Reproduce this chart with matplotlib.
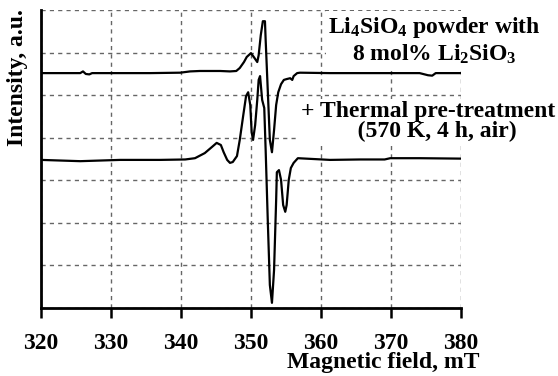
import matplotlib
matplotlib.use("Agg")
import matplotlib.pyplot as plt

plt.rcParams['font.family'] = 'Liberation Serif'
plt.rcParams['font.weight'] = 'bold'
plt.rcParams['mathtext.fontset'] = 'custom'
plt.rcParams['mathtext.bf'] = 'Liberation Serif:bold'
plt.rcParams['mathtext.rm'] = 'Liberation Serif:bold'
plt.rcParams['mathtext.default'] = 'bf'

# untreated powder (upper trace)
field_a = [320.0, 322.7, 325.6, 326.0, 326.4, 326.9, 327.3, 331.3, 335.6, 339.9,
           341.3, 342.7, 345.6, 347.0, 347.9, 348.4, 349.0, 349.4, 350.0, 350.4,
           350.9, 351.1, 351.4, 351.7, 352.0, 352.1, 352.4, 352.7, 353.0, 353.3,
           353.6, 353.9, 354.3, 354.7, 355.1, 355.6, 355.9, 356.1, 356.6, 357.0,
           361.3, 368.4, 374.1, 375.3, 375.9, 376.4, 380.0]
int_a = [5.52, 5.52, 5.52, 5.56, 5.50, 5.49, 5.52, 5.52, 5.52, 5.53,
         5.56, 5.57, 5.57, 5.56, 5.57, 5.64, 5.78, 5.90, 5.99, 5.90,
         5.78, 5.94, 6.41, 6.74, 6.74, 6.30, 5.12, 3.95, 3.66, 4.18,
         4.77, 5.07, 5.26, 5.36, 5.38, 5.40, 5.36, 5.45, 5.52, 5.53,
         5.52, 5.52, 5.52, 5.47, 5.46, 5.52, 5.52]

# after thermal pre-treatment (lower trace)
field_b = [320.0, 325.6, 331.3, 337.0, 340.6, 342.0, 343.4, 344.4, 345.1, 345.7,
           346.1, 346.6, 347.0, 347.4, 348.0, 348.4, 348.9, 349.3, 349.6, 349.9,
           350.1, 350.3, 350.6, 350.9, 351.1, 351.3, 351.6, 351.9, 352.1, 352.4,
           352.7, 353.0, 353.3, 353.6, 353.7, 354.0, 354.3, 354.6, 354.9, 355.1,
           355.4, 355.7, 356.1, 356.7, 361.3, 365.6, 369.1, 369.9, 374.1, 380.0]
int_b = [3.48, 3.45, 3.48, 3.48, 3.49, 3.52, 3.64, 3.78, 3.88, 3.83,
         3.66, 3.48, 3.41, 3.43, 3.57, 3.95, 4.53, 4.98, 5.07, 4.77,
         4.13, 3.95, 4.30, 4.89, 5.36, 5.45, 4.89, 4.70, 3.71, 2.07,
         0.54, 0.12, 0.89, 2.54, 3.19, 3.24, 3.01, 2.42, 2.26, 2.42,
         3.01, 3.29, 3.41, 3.52, 3.48, 3.49, 3.49, 3.52, 3.52, 3.51]

x_ticks = [320, 330, 340, 350, 360, 370, 380]

fig = plt.figure(figsize=(5.58, 3.76), dpi=100)
ax = fig.add_axes([0.0735, 0.181, 0.7525, 0.792])

ax.plot(field_a, int_a, color='black', lw=1.6)
ax.plot(field_b, int_b, color='black', lw=1.6)

ax.set_xlim(320, 380)
ax.set_ylim(0, 7)
ax.set_xticks(x_ticks)
ax.set_yticks(range(0, 8))
ax.set_yticklabels([])
ax.tick_params(axis='y', length=0)
ax.tick_params(axis='x', direction='out', length=7, width=1.8, labelsize=17, pad=11)
for lab in ax.get_xticklabels():
    lab.set_fontweight('bold')

ax.grid(True, color='#666666', linestyle=(0, (3, 3)), linewidth=1)
ax.spines['top'].set_visible(False)
ax.spines['right'].set_visible(False)
ax.spines['left'].set_linewidth(2)
ax.spines['bottom'].set_linewidth(2)

ax.set_xlabel('Magnetic field, mT', fontsize=17, fontweight='bold')
ax.xaxis.set_label_coords(0.814, -0.148)
ax.set_ylabel('Intensity, a.u.', fontsize=17, fontweight='bold')
ax.yaxis.set_label_coords(-0.031, 0.775)

white = dict(facecolor='white', edgecolor='none', pad=1.5)
fig.text(0.779, 0.892, 'Li$_4$SiO$_4$ powder with\n8 mol% Li$_2$SiO$_3$', fontsize=17,
         ha='center', va='center', multialignment='center', linespacing=1.18, bbox=white)
fig.text(0.767, 0.676, '+ Thermal pre-treatment\n   (570 K, 4 h, air)', fontsize=17,
         ha='center', va='center', multialignment='center', linespacing=0.95, bbox=white)

fig.savefig('out.png', dpi=100)
